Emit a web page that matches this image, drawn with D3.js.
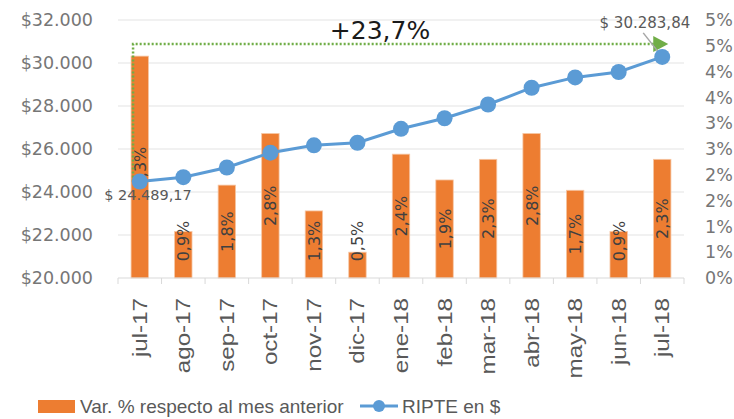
<!DOCTYPE html>
<html>
<head>
<meta charset="utf-8">
<script src="https://cdn.jsdelivr.net/npm/d3@7"></script>
<style>
  body { margin: 0; background: #fff; }
  svg { display: block; }
</style>
</head>
<body>
<div id="main"></div>
<script>
var ctx = {
    w: 734,
    h: 419,
    left: 118,
    right: 684,
    top: 20,
    bottom: 278
};

// data
var months = ["jul-17", "ago-17", "sep-17", "oct-17", "nov-17", "dic-17", "ene-18",
    "feb-18", "mar-18", "abr-18", "may-18", "jun-18", "jul-18"];
var varPct = [4.3, 0.9, 1.8, 2.8, 1.3, 0.5, 2.4, 1.9, 2.3, 2.8, 1.7, 0.9, 2.3];
var ripte = [24489.17, 24690, 25140, 25830, 26170, 26290, 26940, 27430, 28070, 28850, 29330, 29580, 30283.84];
var leftTicks = [20000, 22000, 24000, 26000, 28000, 30000, 32000];
var rightTicks = [0, 0.5, 1, 1.5, 2, 2.5, 3, 3.5, 4, 4.5, 5];
var totalChange = "+23,7%";

var labelFont = "'DejaVu Sans', sans-serif";
var narrowFont = "'Liberation Sans Narrow', 'Liberation Sans', sans-serif";
var catFont = "'Liberation Sans', Arial, sans-serif";

var fmtMoney = function (v) {
    return "$" + d3.format(",")(v).replace(/,/g, ".");
};
var fmtLabel = function (v) {
    return "$ " + d3.format(",.2f")(v).replace(/,/g, "#").replace(".", ",").replace(/#/g, ".");
};

var createChart = function (svg) {
    var x = d3.scaleBand().domain(months).range([ctx.left, ctx.right]).paddingInner(0.6).paddingOuter(0.3);
    var xb = d3.scaleBand().domain(months).range([ctx.left, ctx.right]);
    var yL = d3.scaleLinear().domain([20000, 32000]).range([ctx.bottom, ctx.top]);
    var yR = d3.scaleLinear().domain([0, 5]).range([ctx.bottom, ctx.top]);

    // gridlines
    svg.append("g")
        .selectAll("line")
        .data(leftTicks.slice(1))
        .enter()
        .append("line")
        .attr("x1", ctx.left)
        .attr("x2", ctx.right)
        .attr("y1", (d) => yL(d))
        .attr("y2", (d) => yL(d))
        .attr("stroke", "#e3e3e3")
        .attr("stroke-width", 1);

    // left axis
    var axL = svg.append("g")
        .attr("transform", "translate(" + (ctx.left - 22) + ",0)")
        .call(d3.axisLeft(yL).tickValues(leftTicks).tickFormat(fmtMoney).tickSize(0));
    axL.select(".domain").remove();
    axL.selectAll("text")
        .attr("font-family", labelFont)
        .attr("font-size", 17.5)
        .attr("fill", "#767676");

    // right axis
    var axR = svg.append("g")
        .attr("transform", "translate(" + (ctx.right + 18) + ",0)")
        .call(d3.axisRight(yR).tickValues(rightTicks).tickFormat((d) => Math.round(d + 0.001) + "%").tickSize(0));
    axR.select(".domain").remove();
    axR.selectAll("text")
        .attr("font-family", labelFont)
        .attr("font-size", 17.5)
        .attr("fill", "#767676");

    // bars
    svg.append("g")
        .selectAll("rect")
        .data(varPct)
        .enter()
        .append("rect")
        .attr("x", (d, i) => x(months[i]))
        .attr("width", x.bandwidth())
        .attr("y", (d) => yR(d))
        .attr("height", (d) => yR(0) - yR(d))
        .attr("fill", "#ED7D31")
        .attr("stroke", "#f6c6a4")
        .attr("stroke-width", 0.8);

    // bottom axis
    var axB = svg.append("g")
        .attr("transform", "translate(0," + ctx.bottom + ")");
    axB.append("line")
        .attr("x1", ctx.left).attr("x2", ctx.right)
        .attr("stroke", "#d9d9d9").attr("stroke-width", 1);
    axB.selectAll(".tk")
        .data(months.concat(["end"]))
        .enter()
        .append("line")
        .attr("x1", (d, i) => i < months.length ? xb(d) : ctx.right)
        .attr("x2", (d, i) => i < months.length ? xb(d) : ctx.right)
        .attr("y1", 0).attr("y2", 6)
        .attr("stroke", "#d9d9d9");
    axB.selectAll("text")
        .data(months)
        .enter()
        .append("text")
        .attr("transform", (d) => "translate(" + (xb(d) + xb.bandwidth() / 2 + 7) + ",20) rotate(-90) scale(1.15,1)")
        .attr("text-anchor", "end")
        .attr("font-family", catFont)
        .attr("font-size", 21)
        .attr("fill", "#595959")
        .text((d) => d);

    // bar labels
    svg.append("g")
        .selectAll("text")
        .data(varPct)
        .enter()
        .append("text")
        .attr("transform", function (d, i) {
            var cy = Math.min((yR(d) + yR(0)) / 2, yR(0) - 37);
            return "translate(" + (x(months[i]) + x.bandwidth() / 2 + 6) + "," + cy + ") rotate(-90)";
        })
        .attr("text-anchor", "middle")
        .attr("font-family", labelFont)
        .attr("font-size", 16)
        .attr("fill", "#404040")
        .text((d) => d3.format(".1f")(d).replace(".", ",") + "%");

    // green dotted arrow
    var xFirst = x(months[0]) + 2;
    var xLast = xb(months[months.length - 1]) + xb.bandwidth() / 2;
    var yArrow = yL(30880);
    svg.append("path")
        .attr("d", "M" + xFirst + "," + yL(ripte[0]) + "V" + yArrow + "H" + (xLast - 8))
        .attr("fill", "none")
        .attr("stroke", "#70AD47")
        .attr("stroke-width", 2.5)
        .attr("stroke-dasharray", "2,2");
    svg.append("path")
        .attr("d", "M" + (xLast - 9) + "," + (yArrow - 8) + "L" + (xLast + 6) + "," + yArrow + "L" + (xLast - 9) + "," + (yArrow + 8) + "Z")
        .attr("fill", "#70AD47");

    // line
    var line = d3.line()
        .x((d, i) => xb(months[i]) + xb.bandwidth() / 2)
        .y((d) => yL(d));
    svg.append("path")
        .datum(ripte)
        .attr("d", line)
        .attr("fill", "none")
        .attr("stroke", "#5B9BD5")
        .attr("stroke-width", 3);

    // leader line for last label
    svg.append("line")
        .attr("x1", xLast - 19).attr("y1", yL(ripte[12]) - 24)
        .attr("x2", xLast).attr("y2", yL(ripte[12]))
        .attr("stroke", "#a6a6a6").attr("stroke-width", 1.5);

    svg.append("g")
        .selectAll("circle")
        .data(ripte)
        .enter()
        .append("circle")
        .attr("cx", (d, i) => xb(months[i]) + xb.bandwidth() / 2)
        .attr("cy", (d) => yL(d))
        .attr("r", 8)
        .attr("fill", "#5B9BD5");

    // value labels
    svg.append("text")
        .attr("x", xb(months[0]) + xb.bandwidth() / 2 + 52)
        .attr("y", yL(ripte[0]) + 19)
        .attr("text-anchor", "end")
        .attr("font-family", labelFont)
        .attr("font-size", 14.5)
        .attr("fill", "#595959")
        .text(fmtLabel(ripte[0]));
    svg.append("text")
        .attr("x", xLast + 28)
        .attr("y", yL(ripte[12]) - 29)
        .attr("text-anchor", "end")
        .attr("font-family", labelFont)
        .attr("font-size", 15)
        .attr("fill", "#595959")
        .text(fmtLabel(ripte[12]));

    // change label
    svg.append("text")
        .attr("x", 380)
        .attr("y", yArrow - 5)
        .attr("text-anchor", "middle")
        .attr("font-family", labelFont)
        .attr("font-size", 25)
        .attr("fill", "#1a1a1a")
        .text(totalChange);

    // legend
    var lg = svg.append("g").attr("transform", "translate(0,406)");
    lg.append("rect").attr("x", 38).attr("y", -6).attr("width", 37).attr("height", 13).attr("fill", "#ED7D31");
    lg.append("text").attr("x", 80).attr("y", 7)
        .attr("font-family", narrowFont).attr("font-size", 19).attr("fill", "#595959")
        .text("Var. % respecto al mes anterior");
    lg.append("line").attr("x1", 360).attr("x2", 398).attr("y1", 0).attr("y2", 0)
        .attr("stroke", "#5B9BD5").attr("stroke-width", 3);
    lg.append("circle").attr("cx", 379).attr("cy", 0).attr("r", 6).attr("fill", "#5B9BD5");
    lg.append("text").attr("x", 402).attr("y", 7)
        .attr("font-family", narrowFont).attr("font-size", 19).attr("fill", "#595959")
        .text("RIPTE en $");
};

var svgEl = d3.select("#main").append("svg")
    .attr("width", ctx.w)
    .attr("height", ctx.h);
createChart(svgEl);
</script>
</body>
</html>
